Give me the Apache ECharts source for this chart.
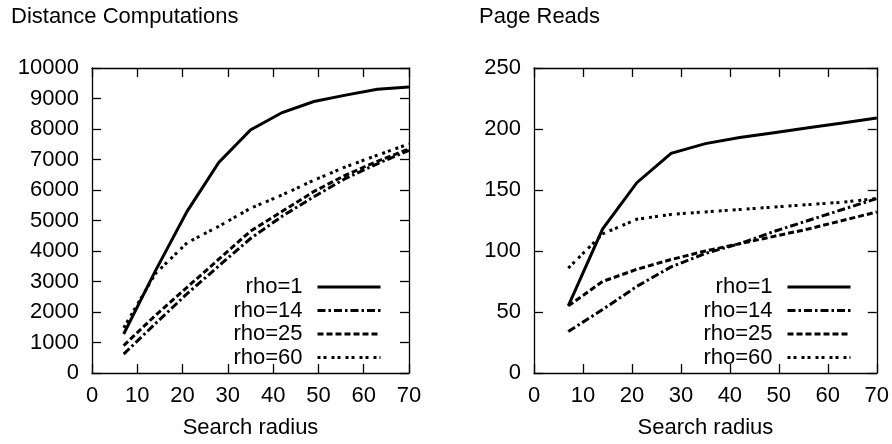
<!DOCTYPE html>
<html>
<head>
<meta charset="utf-8">
<title>Distance Computations / Page Reads</title>
<script src="https://cdn.jsdelivr.net/npm/echarts@6/dist/echarts.min.js"></script>
<style>
  html, body { margin: 0; padding: 0; background: #fff; }
  #chart { width: 892px; height: 444px; }
</style>
</head>
<body>
<div id="chart"></div>
<script>
// Search radius values shared by both panels
const radius = [7, 14, 21, 28, 35, 42, 49, 56, 63, 70];

const seriesNames = ['rho=1', 'rho=14', 'rho=25', 'rho=60'];

// Distance computations per rho setting
const distRho1  = [1280, 3350, 5300, 6900, 7970, 8540, 8900, 9110, 9300, 9380];
const distRho14 = [620, 1620, 2600, 3510, 4410, 5140, 5780, 6380, 6860, 7300];
const distRho25 = [900, 1890, 2810, 3730, 4650, 5300, 5950, 6490, 6940, 7350];
const distRho60 = [1480, 3260, 4270, 4810, 5400, 5840, 6320, 6760, 7140, 7510];

// Page reads per rho setting
const pageRho1  = [55, 118, 156, 180, 188, 193, 197, 201, 205, 209];
const pageRho14 = [34, 52, 71, 87, 98, 106, 116, 125, 134, 143];
const pageRho25 = [55, 75, 85, 93, 100, 106, 112, 118, 125, 132];
const pageRho60 = [86, 114, 126, 130, 132, 134, 136, 138, 140, 143];

// Axis tick ranges
const xTicks = { min: 0, max: 70, interval: 10 };
const distTicks = { min: 0, max: 10000, interval: 1000 };
const pageTicks = { min: 0, max: 250, interval: 50 };

const FONT = "'Liberation Sans', Arial, Helvetica, sans-serif";
const INK = '#000';
const LINE_W = 3;

const dashStyles = {
  'rho=1': 'solid',
  'rho=14': [8, 3, 2.5, 3],
  'rho=25': [6, 3],
  'rho=60': [3, 3, 3, 5]
};

function pairs(values) {
  return radius.map((r, i) => [r, values[i]]);
}

function buildSeries(valuesList, xIdx, yIdx) {
  return seriesNames.map((name, i) => ({
    name: name,
    type: 'line',
    xAxisIndex: xIdx,
    yAxisIndex: yIdx,
    data: pairs(valuesList[i]),
    symbol: 'none',
    showSymbol: false,
    animation: false,
    lineStyle: { color: INK, width: LINE_W, type: dashStyles[name], cap: 'butt', join: 'miter' },
    itemStyle: { color: INK }
  }));
}

const plainNumber = v => String(v);
const boxLine = { show: true, onZero: false, lineStyle: { color: INK, width: 1.3 } };
const innerTick = { show: true, inside: true, length: 9, lineStyle: { color: INK, width: 1.3 } };
const labelStyle = { color: INK, fontSize: 22, fontFamily: FONT };

function xAxes(gridIndex) {
  return [
    Object.assign({
      type: 'value', gridIndex: gridIndex, position: 'bottom',
      axisLine: boxLine, axisTick: innerTick, splitLine: { show: false },
      axisLabel: Object.assign({ margin: 12, formatter: plainNumber }, labelStyle),
      name: 'Search radius', nameLocation: 'middle', nameGap: 44,
      nameTextStyle: labelStyle
    }, xTicks),
    Object.assign({
      type: 'value', gridIndex: gridIndex, position: 'top',
      axisLine: boxLine, axisTick: innerTick, splitLine: { show: false },
      axisLabel: { show: false }
    }, xTicks)
  ];
}

function yAxes(gridIndex, ticks) {
  return [
    Object.assign({
      type: 'value', gridIndex: gridIndex, position: 'left',
      axisLine: boxLine, axisTick: innerTick, splitLine: { show: false },
      axisLabel: Object.assign({ margin: 13, formatter: plainNumber }, labelStyle)
    }, ticks),
    Object.assign({
      type: 'value', gridIndex: gridIndex, position: 'right',
      axisLine: boxLine, axisTick: innerTick, splitLine: { show: false },
      axisLabel: { show: false }
    }, ticks)
  ];
}

function legendAt(right) {
  return {
    data: seriesNames,
    orient: 'vertical',
    align: 'right',
    right: right,
    top: 276,
    padding: 0,
    itemGap: 1.5,
    itemWidth: 63,
    itemHeight: 10,
    selectedMode: false,
    backgroundColor: 'transparent',
    itemStyle: { color: 'rgba(0,0,0,0)', borderWidth: 0, opacity: 0 },
    lineStyle: { width: LINE_W },
    textStyle: { color: INK, fontSize: 22, fontFamily: FONT, lineHeight: 22, padding: [0, 10, 0, 0] }
  };
}

const chart = echarts.init(document.getElementById('chart'), null, { renderer: 'canvas' });

chart.setOption({
  backgroundColor: '#fff',
  animation: false,
  title: [
    { text: 'Distance Computations', left: 11, top: 6, padding: 0,
      textStyle: { color: INK, fontSize: 22, fontWeight: 'normal', fontFamily: FONT } },
    { text: 'Page Reads', left: 479, top: 6, padding: 0,
      textStyle: { color: INK, fontSize: 22, fontWeight: 'normal', fontFamily: FONT } }
  ],
  grid: [
    { left: 92, top: 68, width: 317, height: 309, containLabel: false },
    { left: 534, top: 68, width: 344, height: 309, containLabel: false }
  ],
  xAxis: [].concat(xAxes(0), xAxes(1)),
  yAxis: [].concat(yAxes(0, distTicks), yAxes(1, pageTicks)),
  legend: [legendAt(510), legendAt(40)],
  series: [].concat(
    buildSeries([distRho1, distRho14, distRho25, distRho60], 0, 0),
    buildSeries([pageRho1, pageRho14, pageRho25, pageRho60], 2, 2)
  )
});
</script>
</body>
</html>
